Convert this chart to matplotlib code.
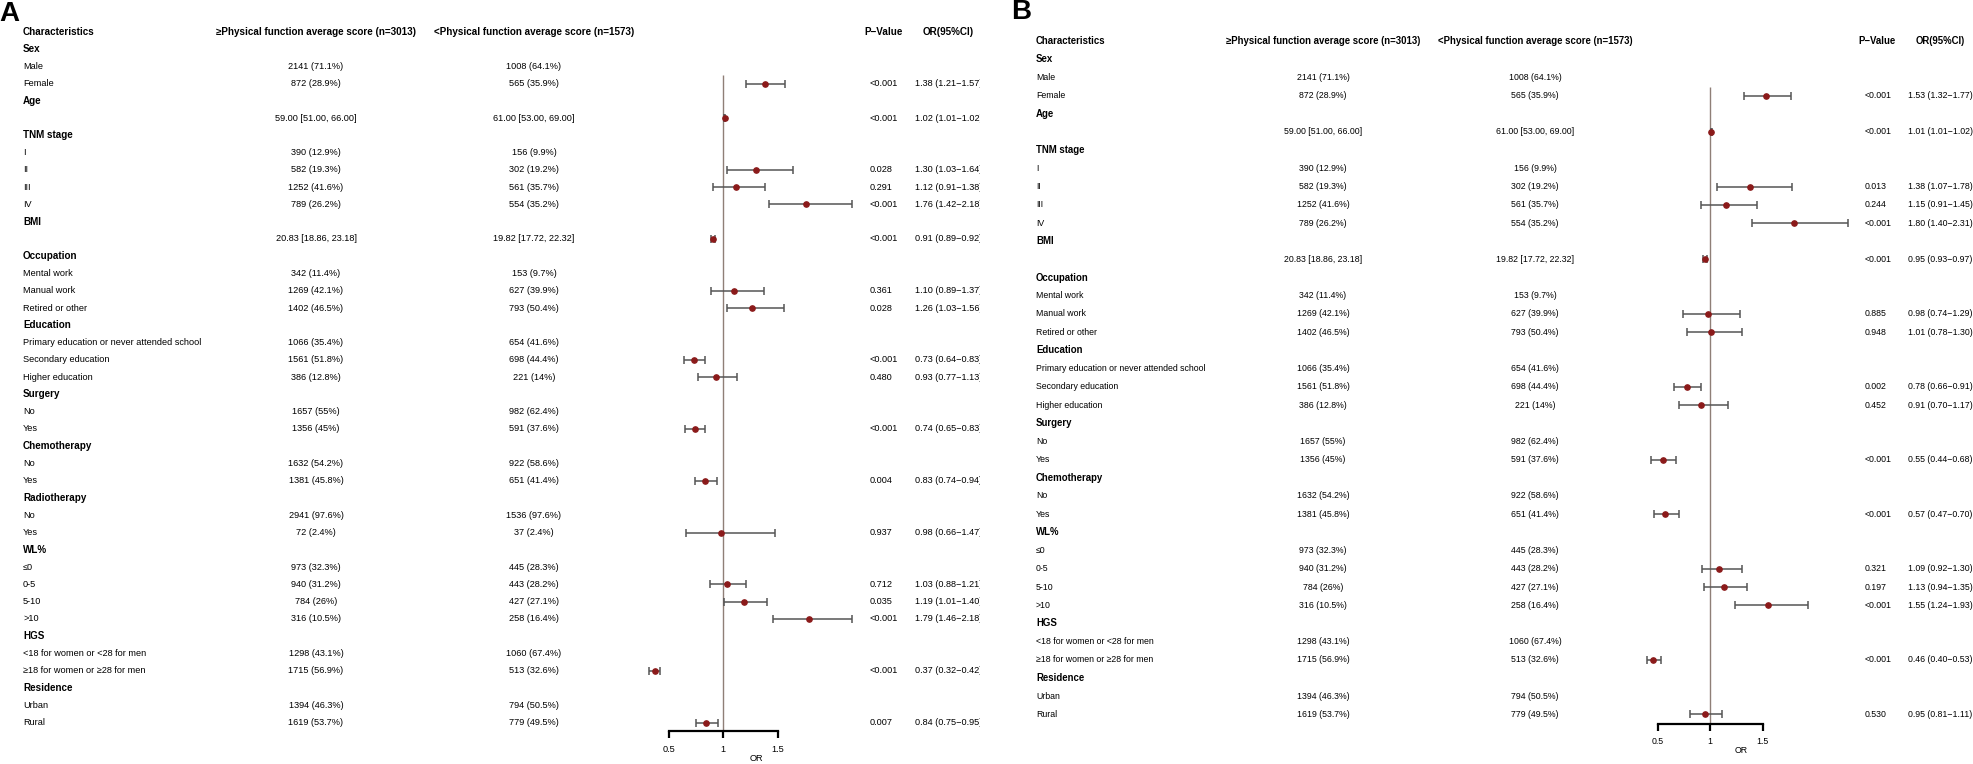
import matplotlib
matplotlib.use("Agg")
import matplotlib.pyplot as plt
from matplotlib import transforms
from matplotlib.transforms import Bbox

plt.rcParams['font.family'] = ['Liberation Sans', 'DejaVu Sans']

# ---- table data (shared by both panels) ----
groups = ["Sex", "Age", "TNM stage", "BMI", "Occupation", "Education", "Surgery",
          "Chemotherapy", "Radiotherapy", "WL%", "HGS", "Residence"]
levels = {
    "Sex": ["Male", "Female"],
    "Age": [""],
    "TNM stage": ["I", "II", "III", "IV"],
    "BMI": [""],
    "Occupation": ["Mental work", "Manual work", "Retired or other"],
    "Education": ["Primary education or never attended school", "Secondary education", "Higher education"],
    "Surgery": ["No", "Yes"],
    "Chemotherapy": ["No", "Yes"],
    "Radiotherapy": ["No", "Yes"],
    "WL%": ["≤0", "0-5", "5-10", ">10"],
    "HGS": ["<18 for women or <28 for men", "≥18 for women or ≥28 for men"],
    "Residence": ["Urban", "Rural"],
}
high_n = {
    "Sex": ["2141 (71.1%)", "872 (28.9%)"],
    "Age": ["59.00 [51.00, 66.00]"],
    "TNM stage": ["390 (12.9%)", "582 (19.3%)", "1252 (41.6%)", "789 (26.2%)"],
    "BMI": ["20.83 [18.86, 23.18]"],
    "Occupation": ["342 (11.4%)", "1269 (42.1%)", "1402 (46.5%)"],
    "Education": ["1066 (35.4%)", "1561 (51.8%)", "386 (12.8%)"],
    "Surgery": ["1657 (55%)", "1356 (45%)"],
    "Chemotherapy": ["1632 (54.2%)", "1381 (45.8%)"],
    "Radiotherapy": ["2941 (97.6%)", "72 (2.4%)"],
    "WL%": ["973 (32.3%)", "940 (31.2%)", "784 (26%)", "316 (10.5%)"],
    "HGS": ["1298 (43.1%)", "1715 (56.9%)"],
    "Residence": ["1394 (46.3%)", "1619 (53.7%)"],
}
low_n = {
    "Sex": ["1008 (64.1%)", "565 (35.9%)"],
    "Age": ["61.00 [53.00, 69.00]"],
    "TNM stage": ["156 (9.9%)", "302 (19.2%)", "561 (35.7%)", "554 (35.2%)"],
    "BMI": ["19.82 [17.72, 22.32]"],
    "Occupation": ["153 (9.7%)", "627 (39.9%)", "793 (50.4%)"],
    "Education": ["654 (41.6%)", "698 (44.4%)", "221 (14%)"],
    "Surgery": ["982 (62.4%)", "591 (37.6%)"],
    "Chemotherapy": ["922 (58.6%)", "651 (41.4%)"],
    "Radiotherapy": ["1536 (97.6%)", "37 (2.4%)"],
    "WL%": ["445 (28.3%)", "443 (28.2%)", "427 (27.1%)", "258 (16.4%)"],
    "HGS": ["1060 (67.4%)", "513 (32.6%)"],
    "Residence": ["794 (50.5%)", "779 (49.5%)"],
}

# ---- panel A: odds ratios ----
keys_a = [("Sex", "Female"), ("Age", ""), ("TNM stage", "II"), ("TNM stage", "III"), ("TNM stage", "IV"),
          ("BMI", ""), ("Occupation", "Manual work"), ("Occupation", "Retired or other"),
          ("Education", "Secondary education"), ("Education", "Higher education"), ("Surgery", "Yes"),
          ("Chemotherapy", "Yes"), ("Radiotherapy", "Yes"), ("WL%", "0-5"), ("WL%", "5-10"), ("WL%", ">10"),
          ("HGS", "≥18 for women or ≥28 for men"), ("Residence", "Rural")]
or_a = [1.38, 1.02, 1.30, 1.12, 1.76, 0.91, 1.10, 1.26, 0.73, 0.93, 0.74, 0.83, 0.98, 1.03, 1.19, 1.79, 0.37, 0.84]
lo_a = [1.21, 1.01, 1.03, 0.91, 1.42, 0.89, 0.89, 1.03, 0.64, 0.77, 0.65, 0.74, 0.66, 0.88, 1.01, 1.46, 0.32, 0.75]
hi_a = [1.57, 1.02, 1.64, 1.38, 2.18, 0.92, 1.37, 1.56, 0.83, 1.13, 0.83, 0.94, 1.47, 1.21, 1.40, 2.18, 0.42, 0.95]
p_a = ["<0.001", "<0.001", "0.028", "0.291", "<0.001", "<0.001", "0.361", "0.028", "<0.001", "0.480",
       "<0.001", "0.004", "0.937", "0.712", "0.035", "<0.001", "<0.001", "0.007"]

# ---- panel B: odds ratios (no radiotherapy) ----
keys_b = [("Sex", "Female"), ("Age", ""), ("TNM stage", "II"), ("TNM stage", "III"), ("TNM stage", "IV"),
          ("BMI", ""), ("Occupation", "Manual work"), ("Occupation", "Retired or other"),
          ("Education", "Secondary education"), ("Education", "Higher education"), ("Surgery", "Yes"),
          ("Chemotherapy", "Yes"), ("WL%", "0-5"), ("WL%", "5-10"), ("WL%", ">10"),
          ("HGS", "≥18 for women or ≥28 for men"), ("Residence", "Rural")]
or_b = [1.53, 1.01, 1.38, 1.15, 1.80, 0.95, 0.98, 1.01, 0.78, 0.91, 0.55, 0.57, 1.09, 1.13, 1.55, 0.46, 0.95]
lo_b = [1.32, 1.01, 1.07, 0.91, 1.40, 0.93, 0.74, 0.78, 0.66, 0.70, 0.44, 0.47, 0.92, 0.94, 1.24, 0.40, 0.81]
hi_b = [1.77, 1.02, 1.78, 1.45, 2.31, 0.97, 1.29, 1.30, 0.91, 1.17, 0.68, 0.70, 1.30, 1.35, 1.93, 0.53, 1.11]
p_b = ["<0.001", "<0.001", "0.013", "0.244", "<0.001", "<0.001", "0.885", "0.948", "0.002", "0.452",
       "<0.001", "<0.001", "0.321", "0.197", "<0.001", "<0.001", "0.530"]

header = ["Characteristics", "≥Physical function average score (n=3013)",
          "<Physical function average score (n=1573)", "P\u2212Value", "OR(95%CI)"]

W, H = 1973, 764
fig = plt.figure(figsize=(W / 100, H / 100), dpi=100)


def build_rows(skip=()):
    rows = []
    for g in groups:
        if g in skip:
            continue
        rows.append((g, True, "", "", None))
        for lv, a, b in zip(levels[g], high_n[g], low_n[g]):
            rows.append((lv, False, a, b, (g, lv)))
    return rows


def panel(tag, rows, keys, est, lo, hi, pv, g):
    n = len(rows)
    top, step = g["top"], g["step"]
    y0 = top - step * 0.5
    y1 = top + step * (n + 0.5)
    xmin, xmax = 0.2, 2.4
    left = g["ref"] - (1 - xmin) * g["ppu"]
    ax = fig.add_axes([left / W, 1 - y1 / H, (xmax - xmin) * g["ppu"] / W, (y1 - y0) / H])
    ax.set_xlim(xmin, xmax)
    ax.set_ylim(n + 0.5, -0.5)
    ax.patch.set_visible(False)
    for s in ["top", "left", "right"]:
        ax.spines[s].set_visible(False)
    ax.spines["bottom"].set_bounds(0.5, 1.5)
    ax.spines["bottom"].set_linewidth(1.6)
    ax.set_yticks([])
    ax.set_xticks([0.5, 1, 1.5])
    ax.set_xticklabels(["0.5", "1", "1.5"])
    ax.tick_params(axis="x", length=5, width=1.6, pad=5, labelsize=g["fs"])
    ax.set_xlabel("OR", fontsize=g["fs"], labelpad=0)

    trans = transforms.blended_transform_factory(fig.transFigure, ax.transData)
    fs, hfs = g["fs"], g["hfs"]
    # header row
    ax.text(g["lab"] / W, 0, header[0], transform=trans, fontsize=hfs, weight="bold", va="center", ha="left")
    ax.text(g["c1"] / W, 0, header[1], transform=trans, fontsize=hfs, weight="bold", va="center", ha="center")
    ax.text(g["c2"] / W, 0, header[2], transform=trans, fontsize=hfs, weight="bold", va="center", ha="center")
    ax.text(g["ph"] / W, 0, header[3], transform=trans, fontsize=hfs, weight="bold", va="center", ha="center")
    ax.text(g["orh"] / W, 0, header[4], transform=trans, fontsize=hfs, weight="bold", va="center", ha="center")

    key_rows = {}
    for i, (lab, bold, a, b, key) in enumerate(rows, start=1):
        ax.text(g["lab"] / W, i, lab, transform=trans, fontsize=hfs if bold else fs,
                weight="bold" if bold else "normal", va="center", ha="left")
        if a:
            ax.text(g["c1"] / W, i, a, transform=trans, fontsize=fs, va="center", ha="center")
            ax.text(g["c2"] / W, i, b, transform=trans, fontsize=fs, va="center", ha="center")
        if key is not None:
            key_rows[key] = i

    ys = [key_rows[k] for k in keys]
    ax.vlines(1, ys[0] - 0.5, n + 0.5, color="#8F7F77", lw=1, zorder=1)
    ax.errorbar(est, ys, xerr=[[e - l for e, l in zip(est, lo)], [h - e for e, h in zip(est, hi)]],
                fmt="o", color="#8B1A1A", ms=3.8, ecolor="#555555", elinewidth=1.1,
                capsize=3, capthick=1.1, zorder=3, clip_on=False)

    clip = Bbox.from_extents(0, 0, g["clip"], H)
    for y, e, l, h, p in zip(ys, est, lo, hi, pv):
        ax.text(g["p"] / W, y, p, transform=trans, fontsize=fs, va="center", ha="left")
        t = ax.text(g["or"] / W, y, f"{e:.2f} ({l:.2f}\u2212{h:.2f})", transform=trans,
                    fontsize=fs, va="center", ha="left")
        t.set_clip_box(clip)
        t.set_clip_on(True)

    fig.text(g["tagx"] / W, 1 - g["tagy"] / H, tag, fontsize=20, weight="bold", va="top", ha="left")


geo_a = dict(top=31.7, step=17.27, ref=723.3, ppu=109, lab=23, c1=316, c2=534, p=870, ph=884,
             clip=980, tagx=-1, tagy=1, fs=6.6, hfs=7.1)
geo_a["or"] = 915
geo_a["orh"] = 948
geo_b = dict(top=41, step=18.2, ref=1710, ppu=105, lab=1036, c1=1323, c2=1535, p=1865, ph=1877,
             clip=W, tagx=1011, tagy=-1, fs=6.3, hfs=6.9)
geo_b["or"] = 1908
geo_b["orh"] = 1940

panel("A", build_rows(), keys_a, or_a, lo_a, hi_a, p_a, geo_a)
panel("B", build_rows(skip=("Radiotherapy",)), keys_b, or_b, lo_b, hi_b, p_b, geo_b)

fig.savefig("out.png", dpi=100, facecolor="white")
